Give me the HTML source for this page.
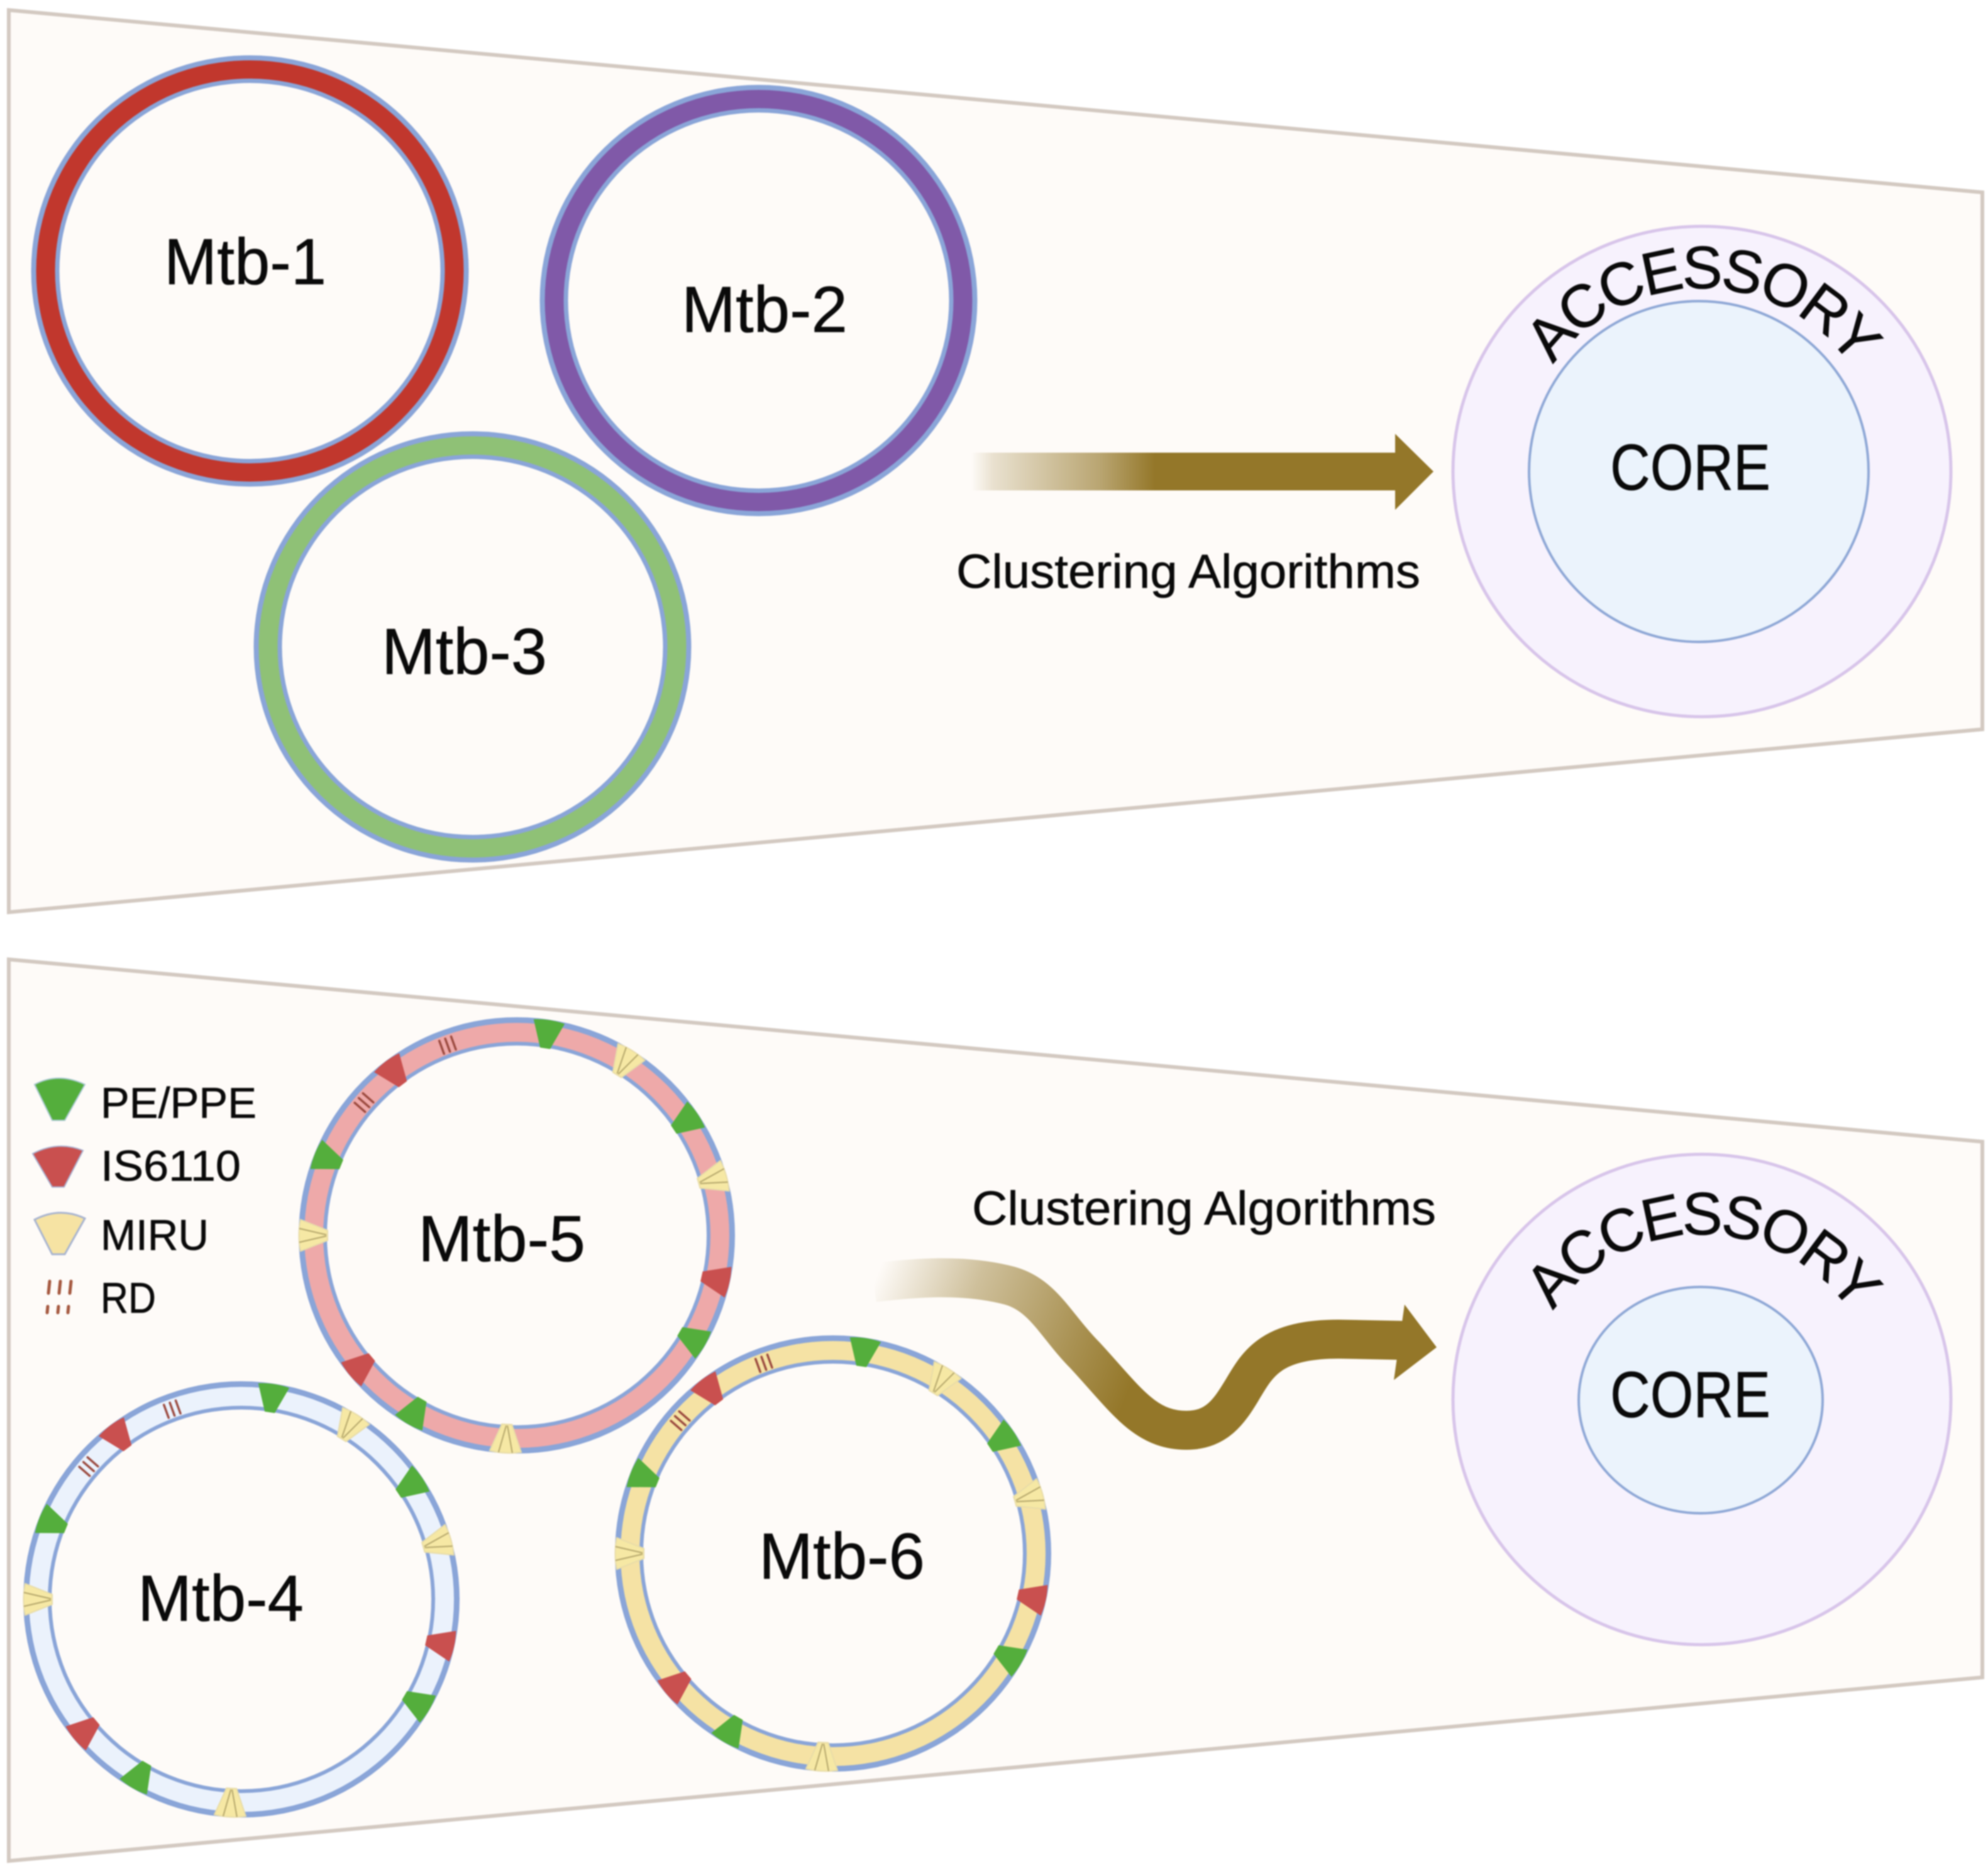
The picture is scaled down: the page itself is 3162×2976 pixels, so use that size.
<!DOCTYPE html>
<html>
<head>
<meta charset="utf-8">
<title>Mtb pangenome clustering diagram</title>
<style>
html,body{margin:0;padding:0;background:#fff;}
svg{display:block;filter:blur(1.1px);}
text{font-family:"Liberation Sans",sans-serif;fill:#0a0a0a;stroke:#0a0a0a;stroke-width:.6px;}
</style>
</head>
<body>
<svg xmlns="http://www.w3.org/2000/svg" width="3162" height="2976" viewBox="0 0 3162 2976">
<defs>
<linearGradient id="ga" gradientUnits="userSpaceOnUse" x1="1545" y1="0" x2="1837" y2="0">
<stop offset="0" stop-color="#947729" stop-opacity="0"/>
<stop offset="0.12" stop-color="#947729" stop-opacity=".2"/>
<stop offset="0.7" stop-color="#947729" stop-opacity=".65"/>
<stop offset="1" stop-color="#947729"/>
</linearGradient>
<linearGradient id="gb" gradientUnits="userSpaceOnUse" x1="1390" y1="2040" x2="1800" y2="2200">
<stop offset="0" stop-color="#947729" stop-opacity="0"/>
<stop offset="0.35" stop-color="#947729" stop-opacity=".45"/>
<stop offset="0.75" stop-color="#947729" stop-opacity=".8"/>
<stop offset="1" stop-color="#947729"/>
</linearGradient>
<path id="wg" d="M-25,-344 Q0,-349 25,-344 L8,-301 L-8,-301Z" fill="#54ae3c"/>
<path id="wr" d="M-25,-344 Q0,-349 25,-344 L8,-301 L-8,-301Z" fill="#c9504f"/>
<g id="wm">
<path d="M-25,-344 Q0,-349 25,-344 L8,-301 L-8,-301Z" fill="#f6e8a4" stroke="#e8dca8" stroke-width="2"/>
<path d="M-11,-346 L-1,-303 M11,-346 L1,-303" stroke="#b3a56a" stroke-width="2" fill="none"/>
</g>
<g id="rd" stroke="#9b4a3f" stroke-width="3.5" stroke-linecap="round">
<path d="M-10,-333 L-10,-311 M0,-333 L0,-311 M10,-333 L10,-311"/>
</g>
<g id="marks">
<use href="#wg" transform="rotate(8.6)"/>
<use href="#wm" transform="rotate(32)"/>
<use href="#wg" transform="rotate(56)"/>
<use href="#wm" transform="rotate(74)"/>
<use href="#wr" transform="rotate(102.5)"/>
<use href="#wg" transform="rotate(120.5)"/>
<use href="#wm" transform="rotate(183)"/>
<use href="#wg" transform="rotate(210)"/>
<use href="#wr" transform="rotate(230)"/>
<use href="#wm" transform="rotate(270)"/>
<use href="#wg" transform="rotate(292)"/>
<use href="#wr" transform="rotate(323)"/>
<use href="#rd" transform="rotate(311)"/>
<use href="#rd" transform="rotate(340)"/>
</g>
<path id="arcTop" d="M2471,580 A290,290 0 0 1 2943,580" fill="none"/>
<path id="arcBot" d="M2471,2085 A290,290 0 0 1 2943,2085" fill="none"/>
</defs>

<rect width="3162" height="2976" fill="#ffffff"/>

<!-- Panels -->
<polygon points="14,16 3153,306 3153,1160 14,1451" fill="#fefbf8" stroke="#d3c9c1" stroke-width="6"/>
<polygon points="14,1526 3153,1816 3153,2668 14,2960" fill="#fefbf8" stroke="#d3c9c1" stroke-width="6"/>

<!-- Top rings -->
<g>
<ellipse cx="397.500" cy="431" rx="348" ry="343" fill="#8aa5d8"/>
<ellipse cx="397.500" cy="431" rx="340" ry="335" fill="#c1372d"/>
<ellipse cx="397.500" cy="431" rx="310" ry="306" fill="#8aa5d8"/>
<ellipse cx="397.500" cy="431" rx="303" ry="299" fill="#fefbf8"/>

<ellipse cx="1206.500" cy="478" rx="348" ry="343" fill="#8aa5d8"/>
<ellipse cx="1206.500" cy="478" rx="340" ry="335" fill="#8059a8"/>
<ellipse cx="1206.500" cy="478" rx="310" ry="306" fill="#8aa5d8"/>
<ellipse cx="1206.500" cy="478" rx="303" ry="299" fill="#fefbf8"/>

<ellipse cx="751.500" cy="1029" rx="348" ry="343" fill="#8aa5d8"/>
<ellipse cx="751.500" cy="1029" rx="340" ry="335" fill="#8fc176"/>
<ellipse cx="751.500" cy="1029" rx="310" ry="306" fill="#8aa5d8"/>
<ellipse cx="751.500" cy="1029" rx="303" ry="299" fill="#fefbf8"/>
</g>

<text x="261" y="452" font-size="104" textLength="258" lengthAdjust="spacingAndGlyphs">Mtb-1</text>
<text x="1084" y="528" font-size="104" textLength="264" lengthAdjust="spacingAndGlyphs">Mtb-2</text>
<text x="607" y="1072" font-size="104" textLength="263" lengthAdjust="spacingAndGlyphs">Mtb-3</text>

<!-- Top arrow -->
<rect x="1545" y="720" width="678" height="60" fill="url(#ga)"/>
<polygon points="2219,690 2280,750 2219,811" fill="#947729"/>
<text x="1521" y="935" font-size="76" textLength="738" lengthAdjust="spacingAndGlyphs">Clustering Algorithms</text>

<!-- Top pangenome -->
<ellipse cx="2707" cy="750" rx="396" ry="390" fill="#f7f2fd" stroke="#d8c5ea" stroke-width="5"/>
<ellipse cx="2702" cy="750" rx="270" ry="271" fill="#ebf3fc" stroke="#8fa8d6" stroke-width="4"/>
<text font-size="96" letter-spacing="-5.5"><textPath href="#arcTop" startOffset="50%" text-anchor="middle">ACCESSORY</textPath></text>
<text x="2561" y="779" font-size="104" textLength="255" lengthAdjust="spacingAndGlyphs">CORE</text>

<!-- Bottom rings -->
<g transform="translate(822,1965)">
<circle r="347" fill="#8aa5d8"/><circle r="338" fill="#eea9a9"/><circle r="308" fill="#8aa5d8"/><circle r="302" fill="#fefbf8"/>
<use href="#marks"/>
</g>
<g transform="translate(384,2544)">
<circle r="347" fill="#8aa5d8"/><circle r="338" fill="#ebf2fc"/><circle r="308" fill="#8aa5d8"/><circle r="302" fill="#fefbf8"/>
<use href="#marks"/>
</g>
<g transform="translate(1325,2471)">
<circle r="347" fill="#8aa5d8"/><circle r="338" fill="#f5e2a4"/><circle r="308" fill="#8aa5d8"/><circle r="302" fill="#fefbf8"/>
<use href="#marks"/>
</g>

<text x="665" y="2006" font-size="104" textLength="266" lengthAdjust="spacingAndGlyphs">Mtb-5</text>
<text x="219" y="2578" font-size="104" textLength="264" lengthAdjust="spacingAndGlyphs">Mtb-4</text>
<text x="1207" y="2511" font-size="104" textLength="264" lengthAdjust="spacingAndGlyphs">Mtb-6</text>

<!-- Legend -->
<path d="M55,1725 Q93,1705 135,1725 L103,1782 L83,1782Z" fill="#54ae3c" stroke="#a8c8d0" stroke-width="2"/>
<path d="M52,1835 Q92,1814 132,1830 L102,1888 L83,1888Z" fill="#c9504f" stroke="#a8b0d0" stroke-width="2"/>
<path d="M55,1940 Q95,1919 135,1938 L103,1995 L83,1995Z" fill="#f6e3a3" stroke="#a8b4d0" stroke-width="3"/>
<g stroke="#a5583f" stroke-width="5" stroke-linecap="round">
<path d="M79,2038 L77,2057 M96,2038 L94,2057 M113,2038 L111,2057"/>
<path d="M76,2078 L75,2088 M93,2078 L92,2088 M109,2078 L108,2088"/>
</g>
<text x="160" y="1778" font-size="69" textLength="248" lengthAdjust="spacingAndGlyphs">PE/PPE</text>
<text x="160" y="1878" font-size="69" textLength="223" lengthAdjust="spacingAndGlyphs">IS6110</text>
<text x="160" y="1988" font-size="69" textLength="172" lengthAdjust="spacingAndGlyphs">MIRU</text>
<text x="160" y="2088" font-size="69" textLength="88" lengthAdjust="spacingAndGlyphs">RD</text>

<!-- Bottom arrow -->
<path d="M1390,2040 C1450,2033 1530,2025 1606,2045 C1660,2060 1680,2110 1725,2155 C1790,2225 1820,2275 1887,2275 C1935,2275 1955,2245 1975,2212 C2000,2170 2020,2130 2129,2130 L2230,2132" fill="none" stroke="url(#gb)" stroke-width="62"/>
<polygon points="2234,2075 2285,2143 2217,2195" fill="#947729"/>
<text x="1546" y="1948" font-size="76" textLength="738" lengthAdjust="spacingAndGlyphs">Clustering Algorithms</text>

<!-- Bottom pangenome -->
<ellipse cx="2707" cy="2226" rx="396" ry="390" fill="#f7f2fd" stroke="#d8c5ea" stroke-width="5"/>
<ellipse cx="2705" cy="2227" rx="194" ry="180" fill="#ebf3fc" stroke="#8fa8d6" stroke-width="4"/>
<text font-size="96" letter-spacing="-5.5"><textPath href="#arcBot" startOffset="50%" text-anchor="middle">ACCESSORY</textPath></text>
<text x="2561" y="2254" font-size="104" textLength="255" lengthAdjust="spacingAndGlyphs">CORE</text>
</svg>
</body>
</html>
